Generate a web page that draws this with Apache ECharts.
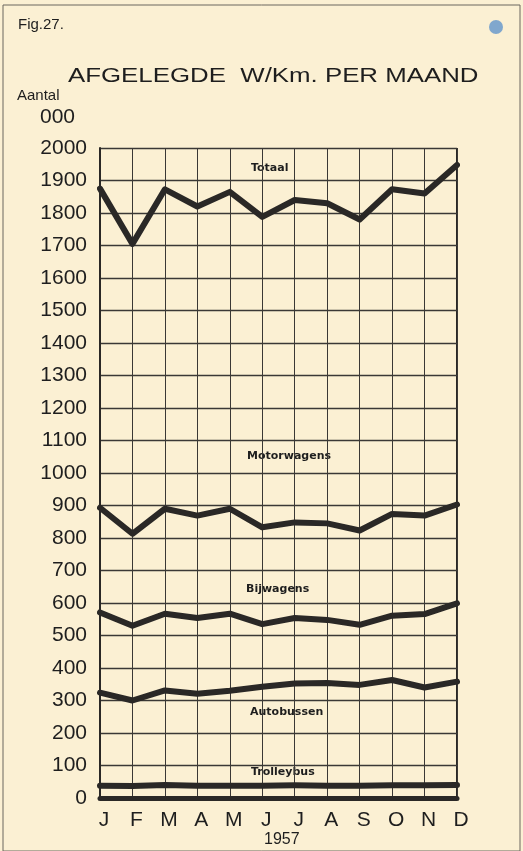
<!DOCTYPE html>
<html>
<head>
<meta charset="utf-8">
<script src="https://cdn.jsdelivr.net/npm/echarts@6/dist/echarts.min.js"></script>
<style>
  html, body { margin: 0; padding: 0; background: #fbf0d3; }
  #chart { width: 523px; height: 851px; }
</style>
</head>
<body>
<div id="chart"></div>
<script>
// maanden 1957
const months = ['J', 'F', 'M', 'A', 'M', 'J', 'J', 'A', 'S', 'O', 'N', 'D']

// afgelegde wagenkilometers (x 1000)
const totaal = [1875, 1705, 1873, 1820, 1865, 1788, 1840, 1830, 1780, 1873, 1860, 1948]
const motorwagens = [893, 813, 890, 869, 890, 833, 848, 845, 823, 874, 869, 903]
const bijwagens = [571, 530, 567, 554, 567, 535, 554, 548, 533, 561, 566, 599]
const autobussen = [324, 300, 331, 321, 330, 342, 352, 354, 348, 363, 340, 358]
const trolleybus = [38, 37, 40, 38, 38, 38, 39, 38, 38, 39, 39, 40]

const seriesNames = ['Totaal', 'Motorwagens', 'Bijwagens', 'Autobussen', 'Trolleybus']
const seriesData = [totaal, motorwagens, bijwagens, autobussen, trolleybus]

const ink = '#2a2826'
const chart = echarts.init(document.getElementById('chart'))

const option = {
    backgroundColor: '#fbf0d3',
    animation: false,
    grid: {
        left: 100,
        right: 66,
        top: 148,
        bottom: 53
    },
    xAxis: {
        type: 'category',
        boundaryGap: false,
        data: months,
        axisTick: { show: false },
        axisLine: { lineStyle: { color: ink, width: 5 } },
        axisLabel: {
            color: '#1e1e1e',
            fontFamily: 'Liberation Sans',
            fontSize: 21,
            margin: 12,
            padding: [0, 0, 0, 8]
        },
        splitLine: { show: true, lineStyle: { color: '#3a3835', width: 1 } }
    },
    yAxis: {
        type: 'value',
        min: 0,
        max: 2000,
        interval: 100,
        axisLine: { show: true, lineStyle: { color: ink, width: 2 } },
        axisTick: { show: false },
        axisLabel: {
            color: '#1e1e1e',
            fontFamily: 'Liberation Sans',
            fontSize: 21,
            margin: 13,
            formatter: v => String(v)
        },
        splitLine: { lineStyle: { color: '#3a3835', width: 1.3 } }
    },
    series: seriesNames.map((name, i) => ({
        name: name,
        type: 'line',
        data: seriesData[i],
        symbol: 'none',
        lineStyle: { color: ink, width: 6, cap: 'round', join: 'round' }
    })),
    graphic: [
        { type: 'rect', shape: { x: 3, y: 5, width: 517, height: 846 }, style: { fill: 'none', stroke: '#6b675f', lineWidth: 1 } },
        { type: 'line', shape: { x1: 457, y1: 148, x2: 457, y2: 798 }, style: { stroke: ink, lineWidth: 2 } },
        { type: 'circle', shape: { cx: 496, cy: 27, r: 7 }, style: { fill: '#6a9acb', opacity: 0.85 } },
        { type: 'text', left: 18, top: 17, style: { text: 'Fig.27.', fontFamily: 'Liberation Sans', fontSize: 15, fill: '#1e1e1e' } },
        // titel: breed lettertype, horizontaal uitgerekt
        { type: 'text', x: 68, y: 66, scaleX: 1.23, originX: 0, originY: 0, style: { text: 'AFGELEGDE  W/Km. PER MAAND', fontFamily: 'Liberation Sans', fontSize: 21, fill: '#1e1e1e' } },
        { type: 'text', left: 17, top: 88, style: { text: 'Aantal', fontFamily: 'Liberation Sans', fontSize: 15, fill: '#1e1e1e' } },
        { type: 'text', left: 40, top: 107, style: { text: '000', fontFamily: 'Liberation Sans', fontSize: 21, fill: '#1e1e1e' } },
        { type: 'text', left: 264, top: 832, style: { text: '1957', fontFamily: 'Liberation Sans', fontSize: 16, fill: '#1e1e1e' } },
        { type: 'text', left: 251, top: 163, style: { text: 'Totaal', fontFamily: 'DejaVu Sans', fontSize: 11, fontWeight: 'bold', fill: '#1e1e1e' } },
        { type: 'text', left: 247, top: 451, style: { text: 'Motorwagens', fontFamily: 'DejaVu Sans', fontSize: 11, fontWeight: 'bold', fill: '#1e1e1e' } },
        { type: 'text', left: 246, top: 584, style: { text: 'Bijwagens', fontFamily: 'DejaVu Sans', fontSize: 11, fontWeight: 'bold', fill: '#1e1e1e' } },
        { type: 'text', left: 250, top: 707, style: { text: 'Autobussen', fontFamily: 'DejaVu Sans', fontSize: 11, fontWeight: 'bold', fill: '#1e1e1e' } },
        { type: 'text', left: 251, top: 767, style: { text: 'Trolleybus', fontFamily: 'DejaVu Sans', fontSize: 11, fontWeight: 'bold', fill: '#1e1e1e' } }
    ]
}

chart.setOption(option)
</script>
</body>
</html>
